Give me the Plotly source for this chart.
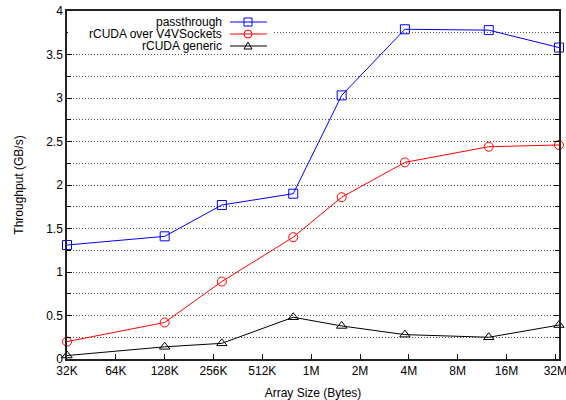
import plotly.graph_objects as go
import math

# ---- data ----
sizes_bytes = [32768, 131072, 295000, 813000, 1616000, 3965000, 13040000, 35330000]
passthrough = [1.31, 1.41, 1.77, 1.90, 3.03, 3.79, 3.78, 3.58]
rcuda_v4v = [0.20, 0.42, 0.89, 1.40, 1.86, 2.26, 2.44, 2.46]
rcuda_generic = [0.04, 0.14, 0.18, 0.48, 0.38, 0.28, 0.25, 0.39]

tick_vals = [32768 * 2 ** k for k in range(11)]
tick_text = ["32K", "64K", "128K", "256K", "512K", "1M", "2M", "4M", "8M", "16M", "32M"]

series_names = ["passthrough", "rCUDA over V4VSockets", "rCUDA generic"]
series_colors = ["#0000ff", "#ff0000", "#000000"]
series_symbols = ["square-open", "circle-open", "triangle-up-open"]

# ---- layout geometry ----
W, H = 566, 400
ML, MR, MT, MB = 67, 7, 11, 41
PW, PH = W - ML - MR, H - MT - MB
FONT = "Liberation Sans, Arial, Helvetica, sans-serif"
GRID_COLOR = "#555555"
GRID_DASH = "1px,2px"


def px(xp):
    return (xp - ML) / PW


def py(yp):
    return 1 - (yp - MT) / PH


fig = go.Figure()
for name, vals, col, sym in zip(series_names, [passthrough, rcuda_v4v, rcuda_generic],
                                series_colors, series_symbols):
    fig.add_trace(go.Scatter(
        x=sizes_bytes, y=vals, name=name, mode="lines+markers",
        line=dict(color=col, width=1),
        marker=dict(symbol=sym, size=9, color=col, line=dict(color=col, width=1)),
        showlegend=False, cliponaxis=False,
    ))

shapes = []
# legend background hiding the grid
shapes.append(dict(type="rect", xref="paper", yref="paper",
                   x0=px(ML + 1), x1=px(272), y0=py(51), y1=py(MT + 1),
                   fillcolor="white", line=dict(width=0), layer="above"))
annotations = []
rows = [22, 34, 46]
lx0, lx1, mx = 230, 267, 248
for i, (name, col) in enumerate(zip(series_names, series_colors)):
    yy = rows[i]
    shapes.append(dict(type="line", xref="paper", yref="paper",
                       x0=px(lx0), x1=px(lx1), y0=py(yy), y1=py(yy),
                       line=dict(color=col, width=1), layer="above"))
    r = 4
    if i == 0:
        shapes.append(dict(type="rect", xref="paper", yref="paper",
                           x0=px(mx - r), x1=px(mx + r), y0=py(yy + r), y1=py(yy - r),
                           line=dict(color=col, width=1), fillcolor="rgba(0,0,0,0)", layer="above"))
    elif i == 1:
        shapes.append(dict(type="circle", xref="paper", yref="paper",
                           x0=px(mx - r), x1=px(mx + r), y0=py(yy + r), y1=py(yy - r),
                           line=dict(color=col, width=1), fillcolor="rgba(0,0,0,0)", layer="above"))
    else:
        path = "M {} {} L {} {} L {} {} Z".format(px(mx - r), py(yy + 3), px(mx + r), py(yy + 3),
                                                  px(mx), py(yy - 4))
        shapes.append(dict(type="path", xref="paper", yref="paper", path=path,
                           line=dict(color=col, width=1), fillcolor="rgba(0,0,0,0)", layer="above"))
    annotations.append(dict(x=px(224), y=py(yy), xref="paper", yref="paper",
                            text=name, showarrow=False, xanchor="right", yanchor="middle",
                            font=dict(family=FONT, size=12, color="black")))

fig.update_layout(
    width=W, height=H,
    margin=dict(l=ML, r=MR, t=MT, b=MB, autoexpand=False),
    paper_bgcolor="white", plot_bgcolor="white",
    font=dict(family=FONT, size=12, color="black"),
    shapes=shapes, annotations=annotations,
    showlegend=False,
)
eps = 1e-4
fig.update_xaxes(
    type="log",
    range=[math.log10(sizes_bytes[0]) - eps, math.log10(sizes_bytes[-1]) + eps],
    tickvals=tick_vals, ticktext=tick_text,
    ticks="inside", ticklen=5, tickcolor="black", ticklabeloverflow="allow",
    showgrid=False, zeroline=False, automargin=False,
    showline=True, linecolor="#222222", linewidth=1.5, mirror=True,
    title=dict(text="Array Size (Bytes)", standoff=11, font=dict(size=12)),
)
fig.update_yaxes(
    range=[0, 4], dtick=0.5, tick0=0,
    ticks="inside", ticklen=5, tickcolor="black", automargin=False,
    ticklabeloverflow="allow",
    showgrid=True, gridcolor=GRID_COLOR, griddash=GRID_DASH, gridwidth=1,
    minor=dict(dtick=0.25, ticks="inside", ticklen=4, tickcolor="black",
               showgrid=True, gridcolor=GRID_COLOR, griddash=GRID_DASH, gridwidth=1),
    zeroline=False,
    showline=True, linecolor="#222222", linewidth=1.5, mirror="ticks",
    title=dict(text="Throughput (GB/s)", standoff=20, font=dict(size=12)),
)

fig.write_html("out.html", config={"displayModeBar": False},
               post_script="document.body.style.margin='0';")
